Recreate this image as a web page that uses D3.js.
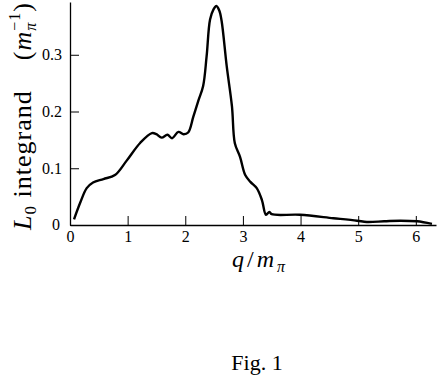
<!DOCTYPE html>
<html>
<head>
<meta charset="utf-8">
<script src="https://cdn.jsdelivr.net/npm/d3@7"></script>
<style>
  body { margin: 0; background: #fff; }
  svg { display: block; }
  text { font-family: 'Liberation Serif', 'DejaVu Serif', serif; fill: #000; }
</style>
</head>
<body>
<div id="chart"></div>
<script>
// q / m_pi values and the L0 integrand
var qVals = [0.07, 0.18, 0.29, 0.40, 0.58, 0.78, 0.98, 1.22, 1.42, 1.50, 1.59, 1.69, 1.77, 1.88, 1.97, 2.05,
             2.14, 2.23, 2.31, 2.37, 2.43, 2.49, 2.54, 2.59, 2.63, 2.72, 2.81, 2.86, 2.95, 3.04, 3.13,
             3.24, 3.33, 3.40, 3.46, 3.50, 3.99, 4.57, 4.98, 5.15, 5.45, 5.73, 6.02, 6.28];
var integrand = [0.010, 0.040, 0.065, 0.075, 0.081, 0.088, 0.113, 0.145, 0.162, 0.160, 0.154, 0.159, 0.153, 0.164, 0.160, 0.163,
                 0.191, 0.220, 0.245, 0.297, 0.362, 0.380, 0.386, 0.378, 0.360, 0.279, 0.209, 0.144, 0.120, 0.088, 0.076,
                 0.065, 0.044, 0.018, 0.023, 0.019, 0.018, 0.012, 0.0076, 0.0053, 0.0065, 0.0076, 0.0065, 0.002];
var xTicks = [0, 1, 2, 3, 4, 5, 6];
var yTicks = [0, 0.1, 0.2, 0.3];

var width = 441, height = 382;

var svg = d3.select('#chart')
    .append('svg')
    .attr('width', width)
    .attr('height', height);

var x = d3.scaleLinear().domain([0, 6.35]).range([70, 436]);
var y = d3.scaleLinear().domain([0, 0.393]).range([225, 2]);

// x axis, ticks pointing inward
var xAxis = svg.append('g')
    .attr('transform', 'translate(0,225)')
    .call(d3.axisBottom(x).tickValues(xTicks).tickSizeInner(-9).tickSizeOuter(0).tickPadding(17).tickFormat(d3.format('d')));

var yAxis = svg.append('g')
    .attr('transform', 'translate(70,0)')
    .call(d3.axisLeft(y).tickValues(yTicks).tickSizeInner(-9).tickSizeOuter(0).tickPadding(17)
        .tickFormat(function(d) { return d === 0 ? '0' : d3.format('.1f')(d); }));

svg.selectAll('.domain').attr('stroke', '#000').attr('stroke-width', 1.3);
svg.selectAll('.tick line').attr('stroke', '#000').attr('stroke-width', 1);
svg.selectAll('.tick text').style('font-size', '16px').attr('fill', '#000');
yAxis.selectAll('.tick text').attr('x', -8);
yAxis.selectAll('.tick').filter(function(d) { return d === 0; }).select('text').attr('x', -10).attr('dy', '0.3em');
xAxis.selectAll('.tick text').attr('y', 6);

var line = d3.line()
    .x(function(d, i) { return x(qVals[i]); })
    .y(function(d) { return y(d); })
    .curve(d3.curveCatmullRom.alpha(0.5));

svg.append('path')
    .datum(integrand)
    .attr('d', line)
    .attr('fill', 'none')
    .attr('stroke', '#000')
    .attr('stroke-width', 2.4)
    .attr('stroke-linejoin', 'round');

// axis titles
var yTitle = svg.append('text')
    .attr('transform', 'translate(31,116)rotate(-90)')
    .attr('text-anchor', 'middle')
    .style('font-size', '26px')
    .style('letter-spacing', '1px');
yTitle.append('tspan').style('font-style', 'italic').text('L');
yTitle.append('tspan').attr('dy', 5).style('font-size', '17px').text('0');
yTitle.append('tspan').attr('dy', -5).text(' integrand \u00a0\u00a0\u00a0(');
yTitle.append('tspan').style('font-style', 'italic').text('m');
yTitle.append('tspan').attr('dy', 5).style('font-size', '16px').style('font-style', 'italic').text('\u03c0');
yTitle.append('tspan').attr('dy', -16).attr('dx', -9).style('font-size', '16px').text('\u22121');
yTitle.append('tspan').attr('dy', 11).text(')');

var xTitle = svg.append('text')
    .attr('x', 260)
    .attr('y', 267)
    .attr('text-anchor', 'middle')
    .style('font-size', '24px')
    .style('letter-spacing', '3px');
xTitle.append('tspan').style('font-style', 'italic').text('q');
xTitle.append('tspan').text('/');
xTitle.append('tspan').style('font-style', 'italic').text('m');
xTitle.append('tspan').attr('dy', 5).style('font-size', '16px').style('font-style', 'italic').text('\u03c0');

svg.append('text')
    .attr('x', 257)
    .attr('y', 370)
    .attr('text-anchor', 'middle')
    .style('font-size', '22px')
    .text('Fig. 1');
</script>
</body>
</html>
